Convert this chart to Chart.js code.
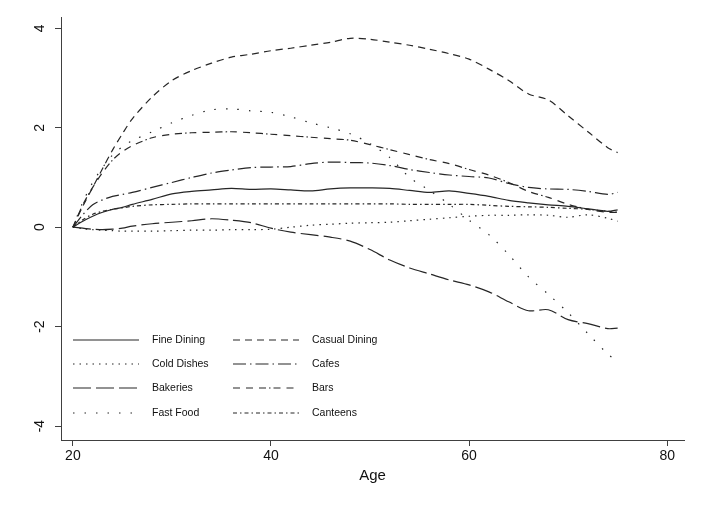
<!DOCTYPE html>
<html>
<head>
<meta charset="utf-8">
<script src="https://cdn.jsdelivr.net/npm/chart.js@4.4.1/dist/chart.umd.min.js"></script>
<style>
  html, body { margin: 0; padding: 0; background: #fff; }
  #wrap { width: 709px; height: 507px; position: relative; }
</style>
</head>
<body>
<div id="wrap"><canvas id="chart"></canvas></div>
<script>
// --- data ---
const ages = [20, 21, 22, 23, 24, 25, 26, 28, 30, 32, 34, 36, 38, 40, 42, 44, 46, 48, 50, 52, 54, 56, 58, 60, 62, 64, 66, 68, 70, 72, 74, 75];

const fineDining   = [0, 0.12, 0.22, 0.30, 0.36, 0.40, 0.46, 0.56, 0.67, 0.72, 0.75, 0.78, 0.76, 0.77, 0.75, 0.73, 0.77, 0.79, 0.79, 0.78, 0.74, 0.70, 0.73, 0.68, 0.62, 0.54, 0.49, 0.45, 0.42, 0.37, 0.32, 0.35];
const casualDining = [0, 0.42, 0.80, 1.18, 1.55, 1.88, 2.18, 2.62, 2.95, 3.15, 3.30, 3.42, 3.48, 3.55, 3.60, 3.66, 3.72, 3.80, 3.78, 3.72, 3.66, 3.58, 3.49, 3.38, 3.18, 2.95, 2.68, 2.56, 2.24, 1.92, 1.60, 1.50];
const coldDishes   = [0, -0.03, -0.05, -0.06, -0.07, -0.08, -0.08, -0.08, -0.07, -0.06, -0.06, -0.05, -0.05, -0.04, 0.00, 0.04, 0.06, 0.08, 0.09, 0.10, 0.13, 0.16, 0.19, 0.22, 0.24, 0.24, 0.25, 0.24, 0.20, 0.25, 0.18, 0.12];
const cafes        = [0, 0.25, 0.45, 0.55, 0.62, 0.66, 0.70, 0.80, 0.90, 1.00, 1.09, 1.15, 1.20, 1.21, 1.22, 1.28, 1.31, 1.30, 1.29, 1.24, 1.16, 1.10, 1.05, 1.02, 0.99, 0.88, 0.80, 0.77, 0.76, 0.72, 0.66, 0.70];
const bakeries     = [0, -0.02, -0.04, -0.05, -0.04, -0.02, 0.02, 0.07, 0.10, 0.13, 0.17, 0.14, 0.09, -0.02, -0.10, -0.15, -0.20, -0.28, -0.45, -0.66, -0.82, -0.94, -1.06, -1.16, -1.30, -1.50, -1.68, -1.66, -1.86, -1.94, -2.04, -2.03];
const bars         = [0, 0.45, 0.80, 1.10, 1.35, 1.52, 1.64, 1.80, 1.87, 1.90, 1.91, 1.92, 1.90, 1.87, 1.84, 1.81, 1.78, 1.75, 1.66, 1.56, 1.46, 1.36, 1.28, 1.16, 1.05, 0.90, 0.72, 0.60, 0.46, 0.36, 0.30, 0.30];
const fastFood     = [0, 0.50, 0.90, 1.20, 1.45, 1.62, 1.74, 1.92, 2.10, 2.25, 2.36, 2.38, 2.34, 2.31, 2.22, 2.10, 2.00, 1.88, 1.68, 1.40, 1.00, 0.74, 0.46, 0.14, -0.15, -0.55, -1.00, -1.35, -1.72, -2.14, -2.55, -2.70];
const canteens     = [0, 0.15, 0.26, 0.32, 0.36, 0.39, 0.42, 0.45, 0.46, 0.47, 0.47, 0.47, 0.47, 0.47, 0.47, 0.47, 0.47, 0.47, 0.47, 0.47, 0.46, 0.46, 0.46, 0.46, 0.44, 0.42, 0.41, 0.40, 0.38, 0.36, 0.32, 0.30];

const seriesNames = ['Fine Dining', 'Casual Dining', 'Cold Dishes', 'Cafes', 'Bakeries', 'Bars', 'Fast Food', 'Canteens'];
const seriesValues = [fineDining, casualDining, coldDishes, cafes, bakeries, bars, fastFood, canteens];
const seriesDashes = [
  [],
  [7, 5],
  [1.5, 5],
  [13, 4, 1.5, 4],
  [18, 5],
  [7, 6, 7, 6, 7, 3, 1.5, 3],
  [1.5, 10],
  [4, 3, 1.5, 3]
];

const xTicks = [20, 40, 60, 80];
const yTicks = [-4, -2, 0, 2, 4];
const xTitle = 'Age';

const LINE_COLOR = '#262626';
const AXIS_COLOR = '#404040';
const FONT = "'Liberation Sans', Arial, sans-serif";

// --- legend drawn inside the plot, two columns like the original ---
const insideLegend = {
  id: 'insideLegend',
  afterDraw(chart) {
    const ctx = chart.ctx;
    const area = chart.chartArea;
    const rowsY = [-100, -76, -52, -27];
    const colX = [12, 172];
    ctx.save();
    chart.data.datasets.forEach((ds, i) => {
      const col = i % 2, row = Math.floor(i / 2);
      const x0 = area.left + colX[col];
      const y = area.bottom + rowsY[row];
      ctx.strokeStyle = LINE_COLOR;
      ctx.lineWidth = 1.2;
      ctx.setLineDash(ds.borderDash);
      ctx.beginPath();
      ctx.moveTo(x0, y);
      ctx.lineTo(x0 + 66, y);
      ctx.stroke();
      ctx.setLineDash([]);
      ctx.fillStyle = '#111';
      ctx.font = '10.5px ' + FONT;
      ctx.textBaseline = 'middle';
      ctx.textAlign = 'left';
      ctx.fillText(ds.label, x0 + 79, y);
    });
    ctx.restore();
  }
};

function buildDatasets() {
  return seriesNames.map((name, i) => ({
    label: name,
    data: ages.map((a, j) => ({ x: a, y: seriesValues[i][j] })),
    borderColor: LINE_COLOR,
    borderWidth: 1.2,
    borderDash: seriesDashes[i],
    pointRadius: 0,
    tension: 0.3,
    fill: false
  }));
}

document.addEventListener('DOMContentLoaded', () => {
  const ctx = document.getElementById('chart').getContext('2d');
  new Chart(ctx, {
    type: 'line',
    data: { datasets: buildDatasets() },
    options: {
      responsive: true,
      maintainAspectRatio: false,
      animation: false,
      layout: { padding: { left: 0, top: 15, right: 25, bottom: 22 } },
      plugins: { legend: { display: false }, tooltip: { enabled: false } },
      scales: {
        x: {
          type: 'linear',
          min: 18.8,
          max: 81.7,
          afterBuildTicks: (scale) => { scale.ticks = xTicks.map(v => ({ value: v })); },
          afterFit: (scale) => { scale.height = 45; },
          grid: { drawOnChartArea: false, drawTicks: true, tickLength: 6, color: AXIS_COLOR },
          border: { display: true, color: AXIS_COLOR, width: 1 },
          ticks: { color: '#111', font: { family: FONT, size: 14 }, padding: 2, maxRotation: 0 },
          title: { display: true, text: xTitle, color: '#111', font: { family: FONT, size: 15 }, padding: { top: 0, bottom: 0 } }
        },
        y: {
          type: 'linear',
          min: -4.28,
          max: 4.22,
          afterBuildTicks: (scale) => { scale.ticks = yTicks.map(v => ({ value: v })); },
          afterFit: (scale) => { scale.width = 61; },
          grid: { drawOnChartArea: false, drawTicks: true, tickLength: 6, color: AXIS_COLOR },
          border: { display: true, color: AXIS_COLOR, width: 1 },
          ticks: { color: '#111', font: { family: FONT, size: 14 }, padding: 9, minRotation: 90, maxRotation: 90, crossAlign: 'center' }
        }
      }
    },
    plugins: [insideLegend]
  });
});
</script>
</body>
</html>
